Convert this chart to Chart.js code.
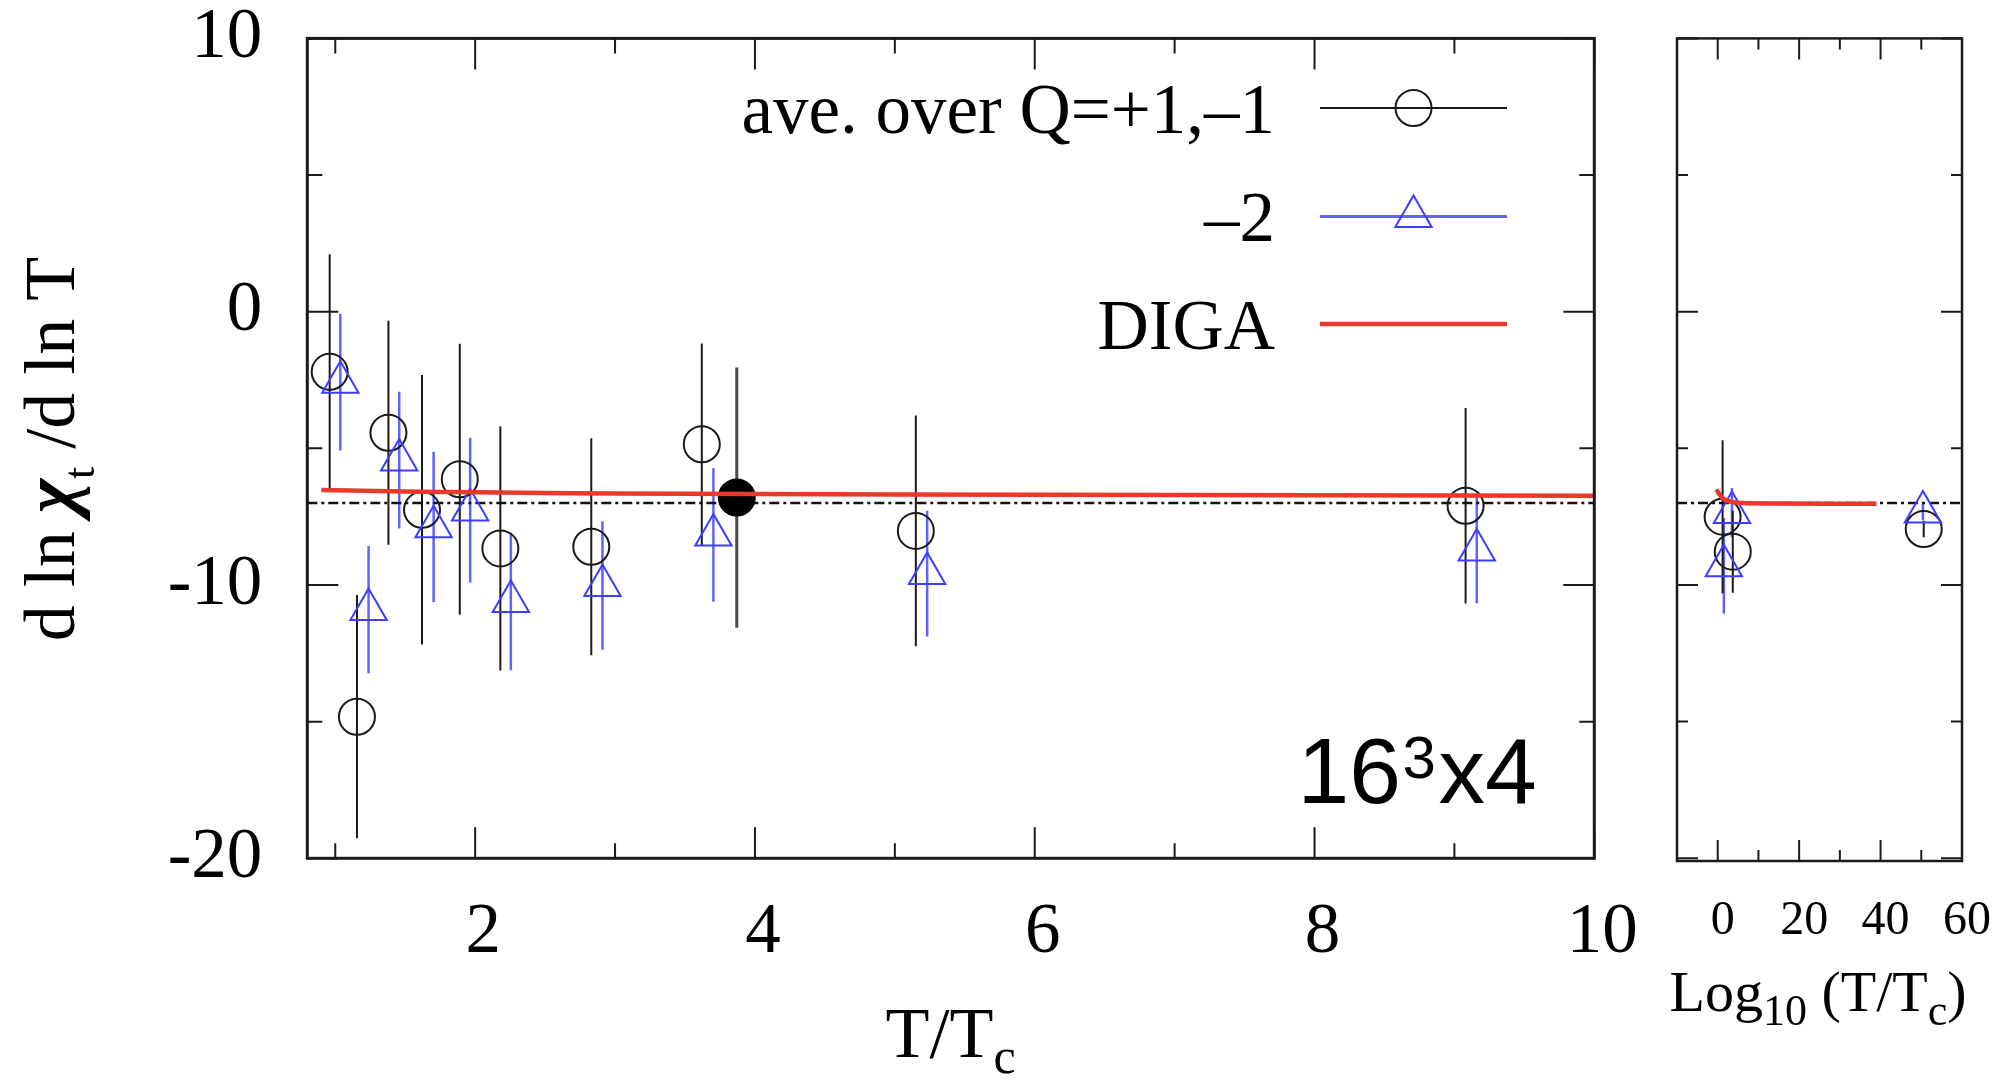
<!DOCTYPE html>
<html>
<head>
<meta charset="utf-8">
<script src="https://cdn.jsdelivr.net/npm/chart.js@4.4.1/dist/chart.umd.min.js"></script>
<style>
  html, body { margin: 0; padding: 0; background: #fff; }
  #wrap { position: relative; width: 2006px; height: 1080px; overflow: hidden; background: #fff; }
  #main { position: absolute; left: 0; top: 0; }
  #side { position: absolute; left: 1640px; top: 0; }
</style>
</head>
<body>
<div id="wrap">
  <canvas id="main" width="1640" height="1080"></canvas>
  <canvas id="side" width="366" height="1080"></canvas>
</div>
<script>
// ---------- data: d ln chi_t / d ln T versus T/Tc ----------
// average over Q = +1, -1 (open circles)
const avgT   = [0.96, 1.155, 1.38, 1.62, 1.89, 2.18, 2.83, 3.62, 5.15, 9.08];
const avgVal = [-2.2, -14.82, -4.43, -7.25, -6.13, -8.66, -8.6, -4.85, -8.02, -7.1];
const avgErr = [4.3, 4.45, 4.1, 4.93, 4.96, 4.47, 3.97, 3.69, 4.22, 3.58];

// Q = -2 (open triangles)
const q2T   = [1.036, 1.238, 1.457, 1.703, 1.964, 2.255, 2.91, 3.703, 5.231, 9.16];
const q2Val = [-2.58, -10.9, -5.43, -7.87, -7.26, -10.6, -10.02, -8.17, -9.58, -8.72];
const q2Err = [2.5, 2.33, 2.5, 2.75, 2.65, 2.52, 2.35, 2.44, 2.3, 1.95];

// highlighted point (filled circle)
const refT   = [3.87];
const refVal = [-6.8];
const refErr = [4.76];

// DIGA curve
const digaT   = [0.9, 1.5, 2, 3, 4, 6, 8, 10];
const digaVal = [-6.52, -6.58, -6.61, -6.65, -6.67, -6.7, -6.72, -6.73];

// dash-dot reference level
const levelX   = [0.8, 10];
const levelVal = [-7, -7];

// side panel: wide range
const sideAvgX   = [1.2, 3.7, 50.6];
const sideAvgVal = [-7.5, -8.78, -7.95];
const sideAvgErr = [2.8, 1.5, 0.3];
const sideQ2X    = [1.5, 3.5, 50.4];
const sideQ2Val  = [-9.3, -7.35, -7.33];
const sideQ2Err  = [1.75, 0.9, 0.3];
const sideDigaX   = [-0.3, 0.5, 1.5, 3, 6, 15, 39];
const sideDigaVal = [-6.5, -6.7, -6.85, -6.95, -7.0, -7.02, -7.03];
const sideLevelX   = [-10, 60];
const sideLevelVal = [-7, -7];

// axes and tick labels
const yRange  = [-20, 10];
const sideYRange = [-20.1, 10];
const yLabels = [-20, -10, 0, 10];
const yMinor  = [-15, -5, 5];
const xRange  = [0.8, 10];
const xLabels = [2, 4, 6, 8, 10];
const xMinor  = [1, 3, 5, 7, 9];
const sideXRange  = [-10, 60];
const sideXLabels = [0, 20, 40, 60];
const sideXMinor  = [10, 30, 50];

const legendLabels = ['ave. over Q=+1,\u20131', '\u20132', 'DIGA'];
const latticeLabel = ['16', '3', 'x4'];

// ---------- styles ----------
const SERIF = '"Liberation Serif", "Times New Roman", serif';
const SANS  = '"Liberation Sans", Arial, sans-serif';
const BLACK = '#1a1a1a';
const BLUE  = '#3d3dff';
const BLUE_ERR = 'rgba(70,70,255,0.85)';
const RED   = '#e8392b';

const pts = (xs, ys) => xs.map((x, i) => ({ x, y: ys[i] }));

// vertical error bars under the markers
const errorBarPlugin = {
  id: 'errorBars',
  beforeDatasetsDraw(chart) {
    const { ctx, chartArea: a, scales: { x, y } } = chart;
    ctx.save();
    ctx.beginPath();
    ctx.rect(a.left, a.top, a.right - a.left, a.bottom - a.top);
    ctx.clip();
    chart.data.datasets.forEach(ds => {
      if (!ds.errorBars) return;
      ctx.strokeStyle = ds.errorColor;
      ctx.lineWidth = ds.errorWidth;
      ds.data.forEach((p, i) => {
        const e = ds.errorBars[i];
        const px = x.getPixelForValue(p.x);
        ctx.beginPath();
        ctx.moveTo(px, y.getPixelForValue(p.y + e));
        ctx.lineTo(px, y.getPixelForValue(p.y - e));
        ctx.stroke();
      });
    });
    ctx.restore();
  }
};

// box frame with inward, mirrored major/minor ticks
const framePlugin = {
  id: 'frame',
  afterDatasetsDraw(chart, args, o) {
    const { ctx, chartArea: a, scales: { x, y } } = chart;
    ctx.save();
    ctx.strokeStyle = BLACK;
    ctx.lineWidth = o.tickWidth;
    const xt = (vals, len) => vals.forEach(v => {
      const px = x.getPixelForValue(v);
      ctx.beginPath();
      ctx.moveTo(px, a.bottom); ctx.lineTo(px, a.bottom - len);
      ctx.moveTo(px, a.top);    ctx.lineTo(px, a.top + len);
      ctx.stroke();
    });
    const yt = (vals, len) => vals.forEach(v => {
      const py = y.getPixelForValue(v);
      ctx.beginPath();
      ctx.moveTo(a.left, py);  ctx.lineTo(a.left + len, py);
      ctx.moveTo(a.right, py); ctx.lineTo(a.right - len, py);
      ctx.stroke();
    });
    xt(o.xMajor, o.major); xt(o.xMinor, o.minor);
    yt(o.yMajor, o.major); yt(o.yMinor, o.minor);
    ctx.lineWidth = o.borderWidth;
    ctx.strokeRect(a.left, a.top, a.right - a.left, a.bottom - a.top);
    ctx.restore();
  }
};

// draws a run of text pieces (font, vertical shift) along a baseline
function drawRun(ctx, pieces, cx, baseY) {
  let total = 0;
  pieces.forEach(p => { ctx.font = p.f; p.w = ctx.measureText(p.t).width; total += p.w; });
  let x = cx - total / 2;
  ctx.textAlign = 'left';
  ctx.textBaseline = 'alphabetic';
  pieces.forEach(p => { ctx.font = p.f; ctx.fillText(p.t, x, baseY + (p.dy || 0)); x += p.w; });
}

function marker(ctx, style, r, x, y) {
  ctx.beginPath();
  if (style === 'triangle') {
    ctx.moveTo(x, y - r);
    ctx.lineTo(x + 0.866 * r, y + 0.5 * r);
    ctx.lineTo(x - 0.866 * r, y + 0.5 * r);
    ctx.closePath();
  } else {
    ctx.arc(x, y, r, 0, Math.PI * 2);
  }
  ctx.stroke();
}

// titles, key and lattice label of the main panel
const mainTextPlugin = {
  id: 'mainText',
  afterDraw(chart) {
    const ctx = chart.ctx;
    ctx.save();
    ctx.fillStyle = '#000';

    // y title, rotated
    ctx.save();
    ctx.translate(74, 449);
    ctx.rotate(-Math.PI / 2);
    drawRun(ctx, [
      { t: 'd ln ', f: `72px ${SERIF}` },
      { t: '\u03c7', f: `bold italic 74px ${SERIF}` },
      { t: 't', f: `44px ${SERIF}`, dy: 20 },
      { t: ' /d ln T', f: `72px ${SERIF}` }
    ], 0, 0);
    ctx.restore();

    // x title
    drawRun(ctx, [
      { t: 'T/T', f: `72px ${SERIF}` },
      { t: 'c', f: `50px ${SERIF}`, dy: 16 }
    ], 950.5, 1057);

    // key
    const ds = chart.data.datasets;
    const keyRows = [
      { label: legendLabels[0], set: ds[3], lineColor: BLACK, lw: 2 },
      { label: legendLabels[1], set: ds[2], lineColor: BLUE_ERR, lw: 3 },
      { label: legendLabels[2], set: ds[0], lineColor: RED, lw: 4.5 }
    ];
    const rowLine = [108, 216.5, 324];
    keyRows.forEach((row, i) => {
      const yy = rowLine[i];
      ctx.font = `71px ${SERIF}`;
      ctx.textAlign = 'right';
      ctx.textBaseline = 'alphabetic';
      ctx.fillStyle = '#000';
      ctx.fillText(row.label, 1275, yy + 24.7);
      ctx.strokeStyle = row.lineColor;
      ctx.lineWidth = row.lw;
      ctx.beginPath(); ctx.moveTo(1320, yy); ctx.lineTo(1507, yy); ctx.stroke();
      if (row.set.pointRadius > 0) {
        ctx.strokeStyle = row.set.borderColor;
        ctx.lineWidth = row.set.borderWidth;
        marker(ctx, row.set.pointStyle, row.set.pointRadius, 1413.5, yy);
      }
    });

    // lattice size label
    ctx.fillStyle = '#000';
    ctx.textBaseline = 'alphabetic';
    ctx.textAlign = 'left';
    const parts = [
      { t: latticeLabel[0], f: `93px ${SANS}`, x: 1304.5, y: 803 },
      { t: latticeLabel[1], f: `60px ${SANS}`, x: 1404.5, y: 778 },
      { t: latticeLabel[2], f: `93px ${SANS}`, x: 1439.6, y: 803 }
    ];
    parts.forEach(p => {
      ctx.font = p.f;
      const m = ctx.measureText(p.t);
      ctx.fillText(p.t, p.x + m.actualBoundingBoxLeft, p.y);
    });
    ctx.restore();
  }
};

const sideTextPlugin = {
  id: 'sideText',
  afterDraw(chart) {
    const ctx = chart.ctx;
    ctx.save();
    ctx.fillStyle = '#000';
    drawRun(ctx, [
      { t: 'Log', f: `58px ${SERIF}` },
      { t: '10', f: `44px ${SERIF}`, dy: 14 },
      { t: ' (T/T', f: `58px ${SERIF}` },
      { t: 'c', f: `44px ${SERIF}`, dy: 14 },
      { t: ')', f: `58px ${SERIF}` }
    ], 178, 1010.5);
    ctx.restore();
  }
};

function dataSets(c) {
  return [
    { // DIGA
      data: pts(c.digaX, c.digaY), showLine: true, borderColor: RED, borderWidth: 4.5,
      pointRadius: 0, tension: 0.3, order: 0
    },
    { // highlighted point
      data: pts(c.refX, c.refY), pointStyle: 'circle', pointRadius: 18, borderWidth: 2,
      borderColor: '#000', backgroundColor: '#000', showLine: false,
      errorBars: c.refE, errorColor: 'rgba(30,30,30,0.8)', errorWidth: 3, order: 1
    },
    { // Q = -2
      data: pts(c.q2X, c.q2Y), pointStyle: 'triangle', pointRadius: 21, borderWidth: 2,
      borderColor: BLUE, backgroundColor: 'rgba(0,0,0,0)', showLine: false,
      errorBars: c.q2E, errorColor: BLUE_ERR, errorWidth: 2.5, order: 2
    },
    { // average over Q = +1, -1
      data: pts(c.avgX, c.avgY), pointStyle: 'circle', pointRadius: 18, borderWidth: 2,
      borderColor: BLACK, backgroundColor: 'rgba(0,0,0,0)', showLine: false,
      errorBars: c.avgE, errorColor: BLACK, errorWidth: 2, order: 3
    },
    { // dash-dot level
      data: pts(c.lvX, c.lvY), showLine: true, borderColor: '#111', borderWidth: 2.5,
      borderDash: [10, 4, 3, 4], pointRadius: 0, order: 4
    }
  ];
}

const baseOpts = {
  responsive: false,
  animation: false,
  devicePixelRatio: 1,
  events: [],
  plugins: { legend: { display: false }, tooltip: { enabled: false } }
};

// fixed axis boxes: label overhang must not shrink the plotting area
const fixX = h => s => { s.height = h; s.paddingLeft = 0; s.paddingRight = 0; };
const fixY = w => s => { s.width = w; s.paddingTop = 0; s.paddingBottom = 0; };

// main panel
new Chart(document.getElementById('main'), {
  type: 'scatter',
  data: {
    datasets: dataSets({
      digaX: digaT, digaY: digaVal,
      refX: refT, refY: refVal, refE: refErr,
      q2X: q2T, q2Y: q2Val, q2E: q2Err,
      avgX: avgT, avgY: avgVal, avgE: avgErr,
      lvX: levelX, lvY: levelVal
    })
  },
  options: {
    ...baseOpts,
    layout: { padding: { top: 38.4, right: 45.7, bottom: 0, left: 0 } },
    plugins: {
      ...baseOpts.plugins,
      frame: { xMajor: xLabels, xMinor: xMinor, yMajor: yLabels, yMinor: yMinor,
               major: 31, minor: 15, tickWidth: 2, borderWidth: 3 }
    },
    scales: {
      x: {
        type: 'linear', position: 'bottom', min: xRange[0], max: xRange[1],
        grid: { display: false }, border: { display: false },
        afterBuildTicks: s => { s.ticks = xLabels.map(v => ({ value: v })); },
        afterFit: fixX(221.7),
        ticks: { font: { family: SERIF, size: 71, lineHeight: 1 }, color: '#000',
                 padding: 32, labelOffset: 8, maxRotation: 0, autoSkip: false,
                 callback: v => String(v) }
      },
      y: {
        type: 'linear', min: yRange[0], max: yRange[1],
        grid: { display: false }, border: { display: false },
        afterBuildTicks: s => { s.ticks = yLabels.map(v => ({ value: v })); },
        afterFit: fixY(307.3),
        ticks: { font: { family: SERIF, size: 71, lineHeight: 1 }, color: '#000',
                 padding: 37, autoSkip: false, callback: v => String(v) }
      }
    }
  },
  plugins: [errorBarPlugin, framePlugin, mainTextPlugin]
});

// side panel
new Chart(document.getElementById('side'), {
  type: 'scatter',
  data: {
    datasets: dataSets({
      digaX: sideDigaX, digaY: sideDigaVal,
      refX: [], refY: [], refE: [],
      q2X: sideQ2X, q2Y: sideQ2Val, q2E: sideQ2Err,
      avgX: sideAvgX, avgY: sideAvgVal, avgE: sideAvgErr,
      lvX: sideLevelX, lvY: sideLevelVal
    })
  },
  options: {
    ...baseOpts,
    layout: { padding: { top: 38.4, right: 44, bottom: 0, left: 0 } },
    plugins: {
      ...baseOpts.plugins,
      frame: { xMajor: sideXLabels, xMinor: sideXMinor, yMajor: yLabels, yMinor: yMinor,
               major: 21, minor: 11, tickWidth: 2, borderWidth: 2.5 }
    },
    scales: {
      x: {
        type: 'linear', position: 'bottom', min: sideXRange[0], max: sideXRange[1],
        grid: { display: false }, border: { display: false },
        afterBuildTicks: s => { s.ticks = sideXLabels.map(v => ({ value: v })); },
        afterFit: fixX(219),
        ticks: { font: { family: SERIF, size: 48, lineHeight: 1 }, color: '#000',
                 padding: 28, labelOffset: 5, maxRotation: 0, autoSkip: false,
                 callback: v => String(v) }
      },
      y: {
        type: 'linear', min: sideYRange[0], max: sideYRange[1],
        grid: { display: false }, border: { display: false },
        afterBuildTicks: s => { s.ticks = yLabels.map(v => ({ value: v })); },
        afterFit: fixY(37),
        ticks: { display: false }
      }
    }
  },
  plugins: [errorBarPlugin, framePlugin, sideTextPlugin]
});
</script>
</body>
</html>
